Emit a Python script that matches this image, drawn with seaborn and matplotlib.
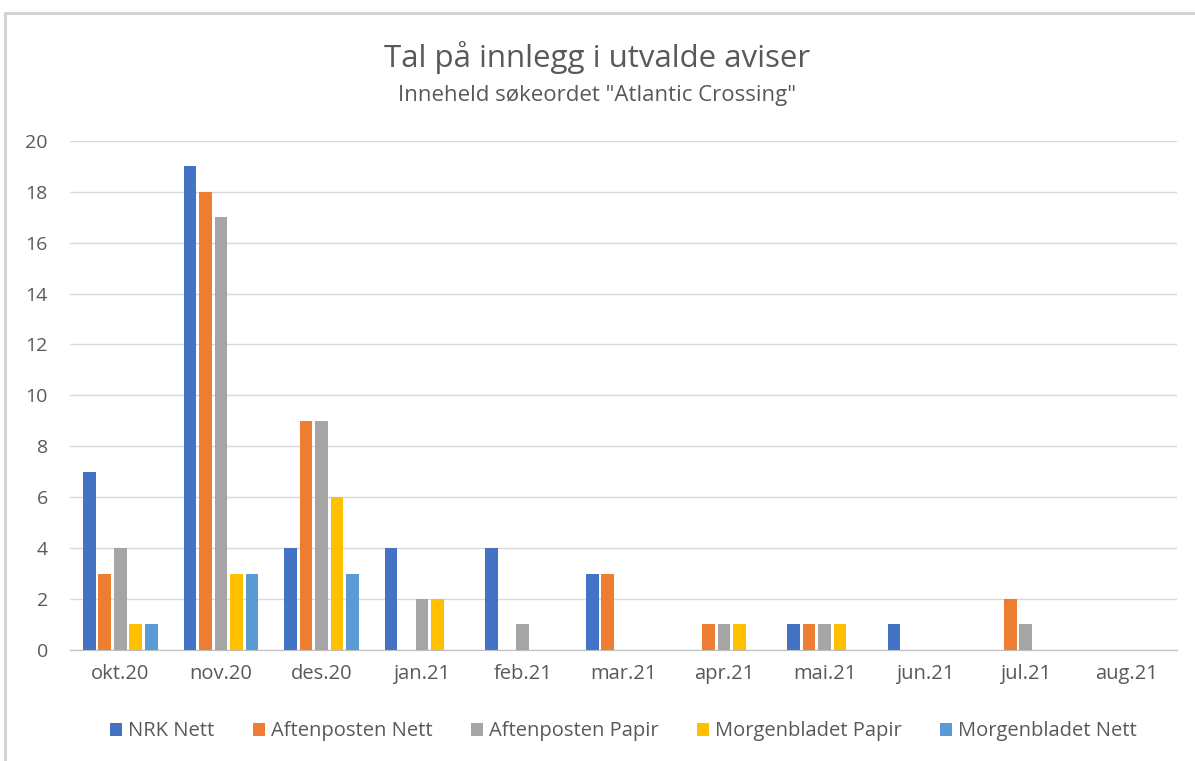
import pandas as pd
import matplotlib.pyplot as plt
import seaborn as sns
from matplotlib.patches import Rectangle
from matplotlib.ticker import FixedLocator

months = ['okt.20', 'nov.20', 'des.20', 'jan.21', 'feb.21', 'mar.21',
          'apr.21', 'mai.21', 'jun.21', 'jul.21', 'aug.21']
series = ['NRK Nett', 'Aftenposten Nett', 'Aftenposten Papir',
          'Morgenbladet Papir', 'Morgenbladet Nett']
nrk_nett = [7, 19, 4, 4, 4, 3, 0, 1, 1, 0, 0]
aften_nett = [3, 18, 9, 0, 0, 3, 1, 1, 0, 2, 0]
aften_papir = [4, 17, 9, 2, 1, 0, 1, 1, 0, 1, 0]
morgen_papir = [1, 3, 6, 2, 0, 0, 1, 1, 0, 0, 0]
morgen_nett = [1, 3, 3, 0, 0, 0, 0, 0, 0, 0, 0]
colors = ['#4472C4', '#ED7D31', '#A5A5A5', '#FFC000', '#5B9BD5']

df = pd.DataFrame({'month': months, series[0]: nrk_nett, series[1]: aften_nett,
                   series[2]: aften_papir, series[3]: morgen_papir,
                   series[4]: morgen_nett})
long = df.melt(id_vars='month', var_name='avis', value_name='antal')

sns.set_style('white')
plt.rcParams['font.family'] = ['Open Sans', 'DejaVu Sans']
text_col = '#595959'

fig = plt.figure(figsize=(11.95, 7.61), dpi=100)
ax = fig.add_axes([0.0586, 0.146, 0.926, 0.669])
sns.barplot(data=long, x='month', y='antal', hue='avis', order=months,
            hue_order=series, palette=colors, width=0.77, gap=0.18,
            saturation=1, linewidth=0, ax=ax)

ax.set_ylim(0, 20)
ax.set_yticks(range(0, 21, 2))
ax.set_xlim(-0.5, len(months) - 0.5)
ax.yaxis.grid(True, color='#D9D9D9', linewidth=1)
ax.set_axisbelow(True)
for s in ['top', 'right', 'left']:
    ax.spines[s].set_visible(False)
ax.spines['bottom'].set_color('#BFBFBF')
ax.tick_params(axis='y', length=0, labelsize=14, colors=text_col, pad=16)
ax.tick_params(axis='x', length=0, labelsize=14.5, colors=text_col, pad=10)
ax.xaxis.set_minor_locator(FixedLocator([i - 0.5 for i in range(len(months) + 1)]))
ax.tick_params(axis='x', which='minor', length=6, color='#BFBFBF', direction='out')
ax.set_xlabel('')
ax.set_ylabel('')

ax.legend(loc='upper center', bbox_to_anchor=(0.5, -0.105), ncol=5, frameon=False,
          fontsize=14.5, labelcolor=text_col, handlelength=0.6, handleheight=0.6,
          handletextpad=0.3, columnspacing=1.9)

fig.text(0.5, 0.924, 'Tal på innlegg i utvalde aviser', ha='center', va='center',
         fontsize=22.5, color=text_col)
fig.text(0.5, 0.874, 'Inneheld søkeordet "Atlantic Crossing"', ha='center',
         va='center', fontsize=16, color=text_col)

fig.add_artist(Rectangle((0.004, -0.01), 1.0, 0.993, transform=fig.transFigure,
                         fill=False, edgecolor='#D0D0D0', linewidth=2))

fig.savefig('out.png', dpi=100)
